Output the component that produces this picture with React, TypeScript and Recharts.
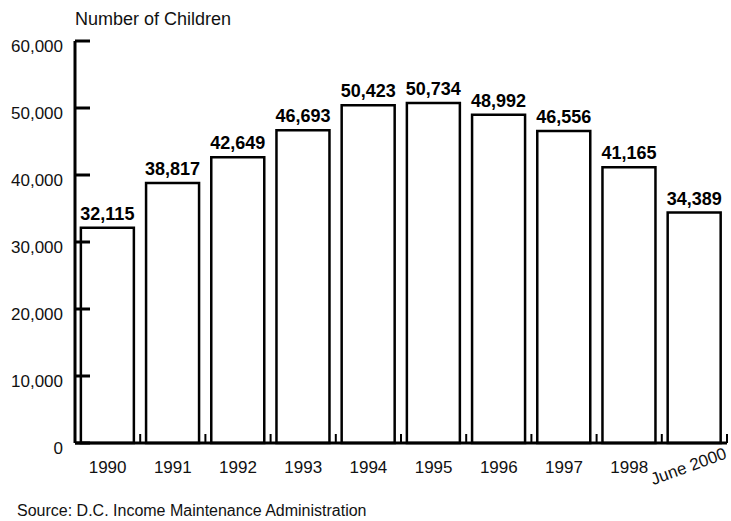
import { BarChart, Bar, XAxis, YAxis, LabelList } from "recharts";

const years = ["1990", "1991", "1992", "1993", "1994", "1995", "1996", "1997", "1998", "June 2000"];
const children = [32115, 38817, 42649, 46693, 50423, 50734, 48992, 46556, 41165, 34389];
const yTicks = [0, 10000, 20000, 30000, 40000, 50000, 60000];

const data = years.map((year, i) => ({ year, children: children[i] }));

const FONT = '"Liberation Sans", Arial, Helvetica, sans-serif';
const W = 731;
const H = 521;
const PLOT_LEFT = 75;
const PLOT_RIGHT = 727;
const HALF_BAND = (PLOT_RIGHT - PLOT_LEFT) / years.length / 2;

const fmt = (v: any) => Number(v).toLocaleString("en-US");

// y ticks point inward, into the plot, labels sit just below the tick
function YTick(props: any) {
  const { x, y, payload } = props;
  return (
    <g>
      <line x1={x} x2={x + 15} y1={y} y2={y} stroke="#000" strokeWidth={3} />
      <text x={x - 12} y={y + 11} textAnchor="end" fontSize={17} fontFamily={FONT} fill="#111">
        {fmt(payload.value)}
      </text>
    </g>
  );
}

// x ticks mark the boundaries between categories, pointing up
function XTick(props: any) {
  const { x, y, payload, index } = props;
  const half = payload.offset || HALF_BAND;
  const last = index === years.length - 1;
  return (
    <g>
      <line x1={x + half} x2={x + half} y1={y} y2={y - 9} stroke="#000" strokeWidth={2} />
      {last ? (
        <text
          x={x - 6}
          y={y + 29}
          textAnchor="middle"
          fontSize={17}
          fontFamily={FONT}
          fill="#111"
          transform={`rotate(-20 ${x - 6} ${y + 23})`}
        >
          {payload.value}
        </text>
      ) : (
        <text x={x} y={y + 30} textAnchor="middle" fontSize={17} fontFamily={FONT} fill="#111">
          {payload.value}
        </text>
      )}
    </g>
  );
}

export default function App() {
  return (
    <div style={{ position: "absolute", left: 0, top: 0, width: W, height: H, background: "#fff" }}>
      <BarChart
        width={W}
        height={H}
        data={data}
        margin={{ top: 41, right: W - PLOT_RIGHT, bottom: 38, left: 0 }}
        barCategoryGap="9%"
      >
        <XAxis
          dataKey="year"
          height={40}
          interval={0}
          tickSize={0}
          tickMargin={0}
          tickLine={false}
          axisLine={{ stroke: "#000", strokeWidth: 3 }}
          tick={(p: any) => <XTick {...p} />}
        />
        <YAxis
          width={PLOT_LEFT}
          domain={[0, 60000]}
          ticks={yTicks}
          interval={0}
          tickSize={0}
          tickMargin={0}
          tickLine={false}
          axisLine={{ stroke: "#000", strokeWidth: 3 }}
          tick={(p: any) => <YTick {...p} />}
        />
        <Bar dataKey="children" fill="#fff" stroke="#000" strokeWidth={2.5} isAnimationActive={false}>
          <LabelList
            dataKey="children"
            position="top"
            offset={8}
            formatter={fmt}
            fill="#000"
            fontSize={18}
            fontWeight={700}
            fontFamily={FONT}
          />
        </Bar>
      </BarChart>
      <svg width={W} height={H} style={{ position: "absolute", left: 0, top: 0, pointerEvents: "none" }}>
        <text x={75} y={25} fontSize={18} fontFamily={FONT} fill="#111">
          Number of Children
        </text>
        <text x={17} y={516} fontSize={16} fontFamily={FONT} fill="#111">
          Source: D.C. Income Maintenance Administration
        </text>
      </svg>
    </div>
  );
}
